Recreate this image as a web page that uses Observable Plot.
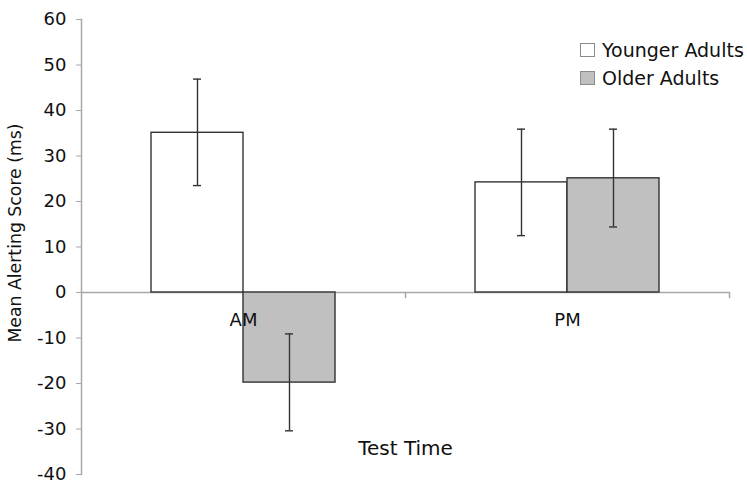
<!DOCTYPE html>
<html>
<head>
<meta charset="utf-8">
<script src="https://cdn.jsdelivr.net/npm/d3@7"></script>
<script src="https://cdn.jsdelivr.net/npm/@observablehq/plot@0.6"></script>
<style>
  html, body { margin: 0; padding: 0; background: #fff; }
  #wrap { position: relative; width: 747px; height: 482px; font-family: "DejaVu Sans", Verdana, sans-serif; }
  .lg { position: absolute; left: 580px; display: flex; align-items: center; font-size: 19px; color: #111; white-space: nowrap; }
  .sw { width: 15px; height: 14px; box-sizing: border-box; border: 1px solid #8c8c8c; margin-right: 7px; }
</style>
</head>
<body>
<div id="wrap"></div>
<script>
// ---- data ----
const times = ["AM", "PM"];
const groups = ["Younger Adults", "Older Adults"];
const youngerMean = [35.1, 24.2];
const youngerLow  = [23.5, 12.5];
const youngerHigh = [46.9, 35.9];
const olderMean   = [-19.8, 25.1];
const olderLow    = [-30.4, 14.4];
const olderHigh   = [-9.1, 35.9];
const yTicks = [-40, -30, -20, -10, 0, 10, 20, 30, 40, 50, 60];
const groupFill = ["#ffffff", "#c0c0c0"];
const yTitle = "Mean Alerting Score (ms)";
const xTitle = "Test Time";

const rows = [];
times.forEach((t, i) => {
  rows.push({time: t, group: groups[0], value: youngerMean[i], low: youngerLow[i], high: youngerHigh[i]});
  rows.push({time: t, group: groups[1], value: olderMean[i], low: olderLow[i], high: olderHigh[i]});
});
const fillOf = new Map(groups.map((g, i) => [g, groupFill[i]]));

const axisGrey = "#a8a8a8";
const ink = "#333333";

const chart = Plot.plot({
  width: 747,
  height: 482,
  marginLeft: 81,
  marginRight: 18,
  marginTop: 19,
  marginBottom: 8,
  style: {fontFamily: "'DejaVu Sans', Verdana, sans-serif", background: "#fff"},
  fx: {domain: times, padding: 0, axis: null},
  x: {domain: groups, paddingInner: 0, paddingOuter: 0.755, axis: null},
  y: {domain: [-40, 60], axis: null},
  marks: [
    Plot.axisY({
      ticks: yTicks, tickSize: 5, tickPadding: 10, tickFormat: d => String(d),
      stroke: axisGrey, fill: "#111", fontSize: 18, label: null
    }),
    Plot.frame({anchor: "left", stroke: axisGrey, strokeWidth: 1.5, facetAnchor: "left"}),
    Plot.frame({anchor: "right", stroke: axisGrey, strokeWidth: 1.5, insetTop: 273, insetBottom: 177}),
    Plot.ruleY([0], {stroke: axisGrey, strokeWidth: 1.5}),
    Plot.barY(rows, {fx: "time", x: "group", y: "value", fill: d => fillOf.get(d.group), stroke: ink, strokeWidth: 1.4}),
    Plot.ruleX(rows, {fx: "time", x: "group", y1: "low", y2: "high", stroke: ink, strokeWidth: 1.4}),
    Plot.tickY(rows, {fx: "time", x: "group", y: "low", stroke: ink, strokeWidth: 1.4, insetLeft: 42, insetRight: 42}),
    Plot.tickY(rows, {fx: "time", x: "group", y: "high", stroke: ink, strokeWidth: 1.4, insetLeft: 42, insetRight: 42}),
    Plot.text(times, {fx: d => d, y: () => 0, text: d => d, dy: 28, fontSize: 18, fill: "#111"}),
    Plot.text([xTitle], {fx: () => times[0], frameAnchor: "bottom-right", textAnchor: "middle", lineAnchor: "middle", dy: -26, fontSize: 20, fill: "#111"}),
    Plot.text([yTitle], {fx: () => times[0], frameAnchor: "left", rotate: -90, textAnchor: "middle", lineAnchor: "middle", dx: -66, dy: -14, fontSize: 17.3, fill: "#111"})
  ]
});

const wrap = document.getElementById("wrap");
wrap.appendChild(chart);

// legend
const tops = [43, 71];
groups.forEach((g, i) => {
  const row = document.createElement("div");
  row.className = "lg";
  row.style.top = (tops[i] - 4) + "px";
  const sw = document.createElement("div");
  sw.className = "sw";
  sw.style.background = groupFill[i];
  const tx = document.createElement("span");
  tx.textContent = g;
  row.appendChild(sw);
  row.appendChild(tx);
  wrap.appendChild(row);
});
</script>
</body>
</html>
